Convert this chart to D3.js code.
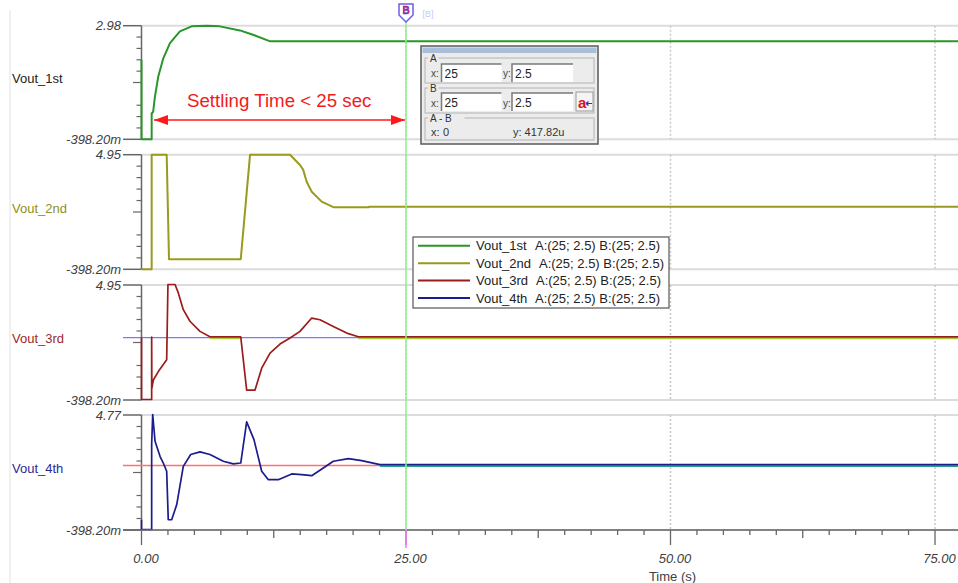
<!DOCTYPE html>
<html><head><meta charset="utf-8">
<script src="https://cdn.jsdelivr.net/npm/d3@7"></script>
<style>body{margin:0;background:#fff;} svg{display:block;font-family:"Liberation Sans",Arial,sans-serif;}</style>
</head><body><svg id="c" width="958" height="583"></svg>
<script>
// ---------- data ----------
const seriesNames = ["Vout_1st","Vout_2nd","Vout_3rd","Vout_4th"];
const yTopLabels = ["2.98","4.95","4.95","4.77"];
const yBottomLabels = ["-398.20m","-398.20m","-398.20m","-398.20m"];
const yMaxValues = [2.98, 4.95, 4.95, 4.77];
const yMinValue = -0.3982;
const xTickValues = [0, 25, 50, 75];
const xTickLabels = ["0.00","25.00","50.00","75.00"];
const xMinorStep = 2.5;
const cursorT = 25;
const cursorV = 2.5;
const legendText = ["A:(25; 2.5) B:(25; 2.5)","A:(25; 2.5) B:(25; 2.5)","A:(25; 2.5) B:(25; 2.5)","A:(25; 2.5) B:(25; 2.5)"];
const dialogA = {x:"25", y:"2.5"};
const dialogB = {x:"25", y:"2.5"};
const dialogDiff = {x:"0", y:"417.82u"};
const settlingText = "Settling Time < 25 sec";
const settlingFrom = 1.0, settlingTo = 25;

const vout1 = [[0,1.96],[0,-0.398],[0.96,-0.398],[0.96,0.37],[1.1,0.42],[1.27,0.87],[1.58,1.46],[2.06,2.01],
  [2.69,2.46],[3.63,2.81],[4.73,2.96],[6.16,2.98],[7.4,2.96],[9.3,2.84],[10.54,2.71],[12.1,2.52],[78,2.52]];
const vout2 = [[0,-0.398],[0.96,-0.398],[0.96,4.95],[2.38,4.95],[2.6,0.07],[9.38,0.07],[10.26,4.95],[14.04,4.95],
  [14.98,4.47],[15.29,4.24],[15.61,3.69],[16.09,3.22],[17.03,2.76],[18.13,2.5],[21.5,2.5],[21.5,2.52],[78,2.52]];
const vout3 = [[0,2.5],[0,-0.398],[0.96,-0.398],[0.96,2.5],[0.98,0.12],[1.12,0.51],[1.59,0.9],[2.38,1.45],
  [2.5,4.95],[3.17,4.95],[3.48,4.56],[3.95,3.78],[4.58,3.24],[5.53,2.77],[6.47,2.52],[9.38,2.52],[9.94,0.04],
  [10.73,0.04],[11.36,1.06],[12.15,1.76],[13.09,2.18],[14.04,2.46],[14.98,2.77],[16.09,3.39],[16.87,3.31],
  [18.13,3.0],[19.4,2.69],[20.5,2.52],[78,2.52]];
const vout4 = [[0,0.04],[0,-0.398],[0.96,-0.398],[0.96,3.42],[1.06,4.77],[1.28,3.57],[1.75,2.89],[2.06,2.59],
  [2.38,2.22],[2.53,0.04],[2.85,0.04],[3.33,0.72],[3.95,2.44],[4.65,2.97],[5.53,3.09],[6.47,2.97],[7.73,2.67],
  [8.68,2.55],[9.38,2.59],[9.94,4.44],[10.63,3.64],[11.36,2.22],[11.99,1.84],[12.93,1.84],[14.2,2.1],
  [15.14,2.07],[16.09,2.02],[17.5,2.47],[18.13,2.67],[19.55,2.79],[20.81,2.7],[22.54,2.52],[78,2.52]];
const seriesData = [vout1, vout2, vout3, vout4];
// segments where a trace lies on the cursor level (coloured overlap)
const flat3 = [[6.47,9.38],[20.5,78]];
const flat4 = [[22.54,78]];

// ---------- style ----------
const traceColors = ["#2a952a","#9a9a1e","#9b1c1c","#1c1c8c"];
const labelColors = ["#222222","#8f8f22","#9b2a2a","#2a2a96"];
const refColors = [null, null, "#7878ff", "#ff7070"];
const overlapColors = [null, null, "#a8d03a", "#2aa08c"];
const panelTops = [25.7, 154.7, 285, 415];
const panelBottoms = [139.3, 269.3, 400, 530];

const svg = d3.select("#c");
const W = 958;
const x = d3.scaleLinear().domain([0, 75]).range([141.5, 935]);
const axisX = x(0);

svg.append("line").attr("x1",10).attr("x2",10).attr("y1",10).attr("y2",583).attr("stroke","#e2e2e2").attr("stroke-width",1);

const defs = svg.append("defs");
["s","e"].forEach(k=>{
  defs.append("marker").attr("id","arr"+k).attr("viewBox","0 0 14 10").attr("refX", k==="e"?14:0).attr("refY",5)
    .attr("markerWidth",14).attr("markerHeight",10).attr("markerUnits","userSpaceOnUse").attr("orient","auto")
    .append("path").attr("d", k==="e" ? "M0,0L14,5L0,10Z" : "M14,0L0,5L14,10Z").attr("fill","#ff1a1a");
});

seriesData.forEach((data, i) => {
  const top = panelTops[i], bot = panelBottoms[i];
  const y = d3.scaleLinear().domain([yMinValue, yMaxValues[i]]).range([bot, top]);
  const g = svg.append("g");
  [top, bot].forEach(yy => g.append("line").attr("x1",axisX).attr("x2",W).attr("y1",yy).attr("y2",yy)
    .attr("stroke","#dcdcdc").attr("stroke-width",2));
  xTickValues.filter(t=>t>0).forEach(t => g.append("line").attr("x1",x(t)).attr("x2",x(t)).attr("y1",top).attr("y2",bot)
    .attr("stroke","#c8c8c8").attr("stroke-width",1.5).attr("stroke-dasharray","2,2"));
  g.append("line").attr("x1",axisX).attr("x2",axisX).attr("y1",top).attr("y2",bot).attr("stroke","#666").attr("stroke-width",1.5);
  [top, bot].forEach(yy => g.append("line").attr("x1",123).attr("x2",axisX).attr("y1",yy).attr("y2",yy).attr("stroke","#666").attr("stroke-width",1.5));
  for (let k=1;k<10;k++){
    if (k===4) continue;
    const yy = bot + (top-bot)*k/10;
    g.append("line").attr("x1", k===5?133:136.5).attr("x2",axisX).attr("y1",yy).attr("y2",yy).attr("stroke","#666").attr("stroke-width",1.2);
  }
  g.append("text").attr("x",121).attr("y",top+4.5).attr("text-anchor","end").attr("font-size",13).attr("font-style","italic").attr("fill","#404040").text(yTopLabels[i]);
  g.append("text").attr("x",121).attr("y",bot+4.5).attr("text-anchor","end").attr("font-size",13).attr("font-style","italic").attr("fill","#404040").text(yBottomLabels[i]);
  g.append("text").attr("x",12).attr("y",(top+bot)/2+0.5).attr("font-size",13).attr("fill",labelColors[i]).text(seriesNames[i]);
  if (refColors[i]) g.append("line").attr("x1",123).attr("x2",W).attr("y1",y(cursorV)).attr("y2",y(cursorV)).attr("stroke",refColors[i]).attr("stroke-width",1.3);
  const flats = i===2?flat3:(i===3?flat4:[]);
  flats.forEach(f => g.append("line").attr("x1",x(f[0])).attr("x2",x(f[1])).attr("y1",y(cursorV)+0.9).attr("y2",y(cursorV)+0.9)
    .attr("stroke",overlapColors[i]).attr("stroke-width",1.2));
  const line = d3.line().x(d=>x(d[0])).y(d=>y(d[1]) - (flats.length?0.5:0));
  g.append("path").datum(data).attr("d",line).attr("fill","none").attr("stroke",traceColors[i]).attr("stroke-width",flats.length?1.7:2).attr("stroke-linejoin","round");
});

// x axis
const xa = svg.append("g");
xa.append("line").attr("x1",123).attr("x2",W).attr("y1",530).attr("y2",530).attr("stroke","#666").attr("stroke-width",1.5);
d3.range(0, 78, xMinorStep).forEach(t => {
  const len = (t % 25 === 0) ? 15 : ((t % 12.5 === 0) ? 8 : 5);
  xa.append("line").attr("x1",x(t)).attr("x2",x(t)).attr("y1",530).attr("y2",530+len).attr("stroke","#666").attr("stroke-width",1.3);
});
xTickValues.forEach((t,k) => xa.append("text").attr("x",x(t)+4.5).attr("y",563).attr("text-anchor","middle").attr("font-size",13)
  .attr("font-style","italic").attr("fill","#404040").text(xTickLabels[k]));
xa.append("text").attr("x",x(50)+2).attr("y",581).attr("text-anchor","middle").attr("font-size",13).attr("fill","#404040").text("Time (s)");

// cursor
const cx = x(cursorT);
svg.append("line").attr("x1",cx).attr("x2",cx).attr("y1",22).attr("y2",530).attr("stroke","#8cf08c").attr("stroke-width",1.5);
svg.append("line").attr("x1",cx).attr("x2",cx).attr("y1",530).attr("y2",548).attr("stroke","#ff70ff").attr("stroke-width",1.5);
svg.append("path").attr("d",`M${cx-7},4L${cx+7},4L${cx+7},15L${cx},22L${cx-7},15Z`).attr("fill","#fff").attr("stroke","#6d5ee8").attr("stroke-width",1.5);
svg.append("text").attr("x",cx).attr("y",14).attr("text-anchor","middle").attr("font-size",10).attr("font-weight","bold")
  .attr("fill","#e02040").attr("stroke","#3040d0").attr("stroke-width",0.4).text("B");
svg.append("text").attr("x",428).attr("y",17).attr("text-anchor","middle").attr("font-size",9).attr("fill","#c4cbf6").text("[B]");

// settling annotation
svg.append("text").attr("x",187).attr("y",107).attr("font-size",18.7).attr("fill","#f01c1c").text(settlingText);
svg.append("line").attr("x1",x(settlingFrom)+2).attr("x2",x(settlingTo)-1).attr("y1",120).attr("y2",120)
  .attr("stroke","#ff1a1a").attr("stroke-width",1.5).attr("marker-start","url(#arrs)").attr("marker-end","url(#arre)");

// dialog
const dg = svg.append("g").attr("font-size",11).attr("fill","#222");
dg.append("rect").attr("x",421).attr("y",46).attr("width",177).attr("height",98).attr("fill","#ececec").attr("stroke","#5a5a5a").attr("stroke-width",1.5);
dg.append("rect").attr("x",422.5).attr("y",47.5).attr("width",174).attr("height",5.5).attr("fill","#a9bfd9");
function group(y0, h, label){
  dg.append("rect").attr("x",425).attr("y",y0).attr("width",169).attr("height",h).attr("fill","none").attr("stroke","#bdbdbd").attr("stroke-width",1.2);
  const tw = label.length*6.5+4;
  dg.append("rect").attr("x",428).attr("y",y0-4).attr("width",tw).attr("height",8).attr("fill","#ececec");
  dg.append("text").attr("x",430).attr("y",y0+4).attr("font-size",10).attr("fill","#333").text(label);
}
function input(x0, y0, w, val){
  dg.append("rect").attr("x",x0).attr("y",y0).attr("width",w).attr("height",18).attr("fill","#fff");
  dg.append("path").attr("d",`M${x0},${y0+18}L${x0},${y0}L${x0+w},${y0}`).attr("fill","none").attr("stroke","#7a7a7a").attr("stroke-width",1.5);
  dg.append("text").attr("x",x0+3).attr("y",y0+14).attr("font-size",12).attr("fill","#222").text(val);
}
group(58, 25, "A");
dg.append("text").attr("x",431).attr("y",77).attr("font-size",10).attr("fill","#444").text("x:");
input(441.5, 64, 60, dialogA.x);
dg.append("text").attr("x",503).attr("y",77).attr("font-size",10).attr("fill","#444").text("y:");
input(512, 64, 61, dialogA.y);
group(88, 25, "B");
dg.append("text").attr("x",431).attr("y",107).attr("font-size",10).attr("fill","#444").text("x:");
input(441.5, 93, 60, dialogB.x);
dg.append("text").attr("x",503).attr("y",107).attr("font-size",10).attr("fill","#444").text("y:");
input(512, 93, 61, dialogB.y);
dg.append("rect").attr("x",576).attr("y",92).attr("width",17).attr("height",19).attr("fill","#f4f4f4").attr("stroke","#9a9a9a");
dg.append("text").attr("x",578).attr("y",108).attr("font-size",15).attr("font-weight","bold").attr("fill","#e0101a").text("a");
dg.append("path").attr("d","M586,103.5L592,103.5M586,103.5L588.5,101.5M586,103.5L588.5,105.5").attr("stroke","#2030c0").attr("stroke-width",1.2).attr("fill","none");
group(118, 22, "A - B");
dg.append("text").attr("x",431).attr("y",136).attr("font-size",11).attr("fill","#333").text("x:");
dg.append("text").attr("x",443).attr("y",136).attr("font-size",11).attr("fill","#333").text(dialogDiff.x);
dg.append("text").attr("x",513).attr("y",136).attr("font-size",11).attr("fill","#333").text("y: " + dialogDiff.y);

// legend
const lg = svg.append("g");
lg.append("rect").attr("x",413).attr("y",237).attr("width",256).attr("height",71).attr("fill","#fff").attr("stroke","#555").attr("stroke-width",1.2);
const rowY = d3.scalePoint().domain(seriesNames).range([245.7, 298]);
const abX = [535, 539, 536, 535];
seriesNames.forEach((n,i) => {
  const yy = rowY(n);
  lg.append("line").attr("x1",418).attr("x2",470).attr("y1",yy).attr("y2",yy).attr("stroke",traceColors[i]).attr("stroke-width",2);
  lg.append("text").attr("x",476).attr("y",yy+4.5).attr("font-size",13).attr("fill","#222").text(n);
  lg.append("text").attr("x",abX[i]).attr("y",yy+4.5).attr("font-size",13).attr("fill","#222").text(legendText[i]);
});
</script></body></html>
